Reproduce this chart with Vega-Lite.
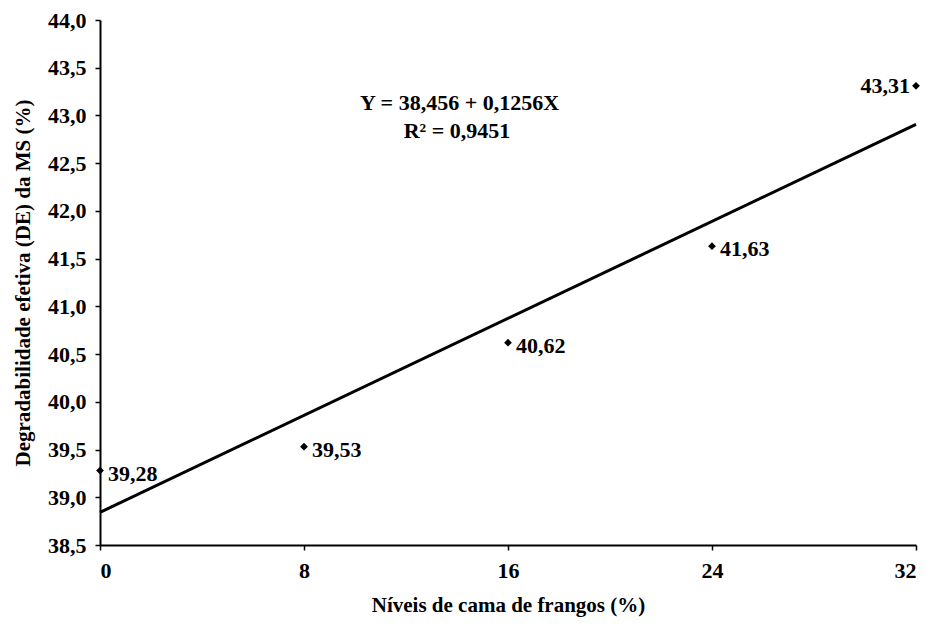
{
  "$schema": "https://vega.github.io/schema/vega-lite/v6.json",
  "width": 816,
  "height": 525,
  "autosize": {"type": "none"},
  "padding": {"left": 100, "top": 20, "right": 16, "bottom": 83},
  "background": "white",
  "config": {
    "view": {"stroke": null},
    "font": "Liberation Serif",
    "axis": {"grid": false, "domainColor": "black", "domainWidth": 2, "tickColor": "black", "tickWidth": 1.5, "tickSize": 5,
      "labelFont": "Liberation Serif", "labelFontWeight": "bold", "labelFontSize": 22, "labelColor": "black",
      "titleFont": "Liberation Serif", "titleFontWeight": "bold", "titleFontSize": 21, "titleColor": "black"}
  },
  "datasets": {
    "pts": [
      {"x": 0, "y": 39.28, "lab": "39,28"},
      {"x": 8, "y": 39.53, "lab": "39,53"},
      {"x": 16, "y": 40.62, "lab": "40,62"},
      {"x": 24, "y": 41.63, "lab": "41,63"},
      {"x": 32, "y": 43.31, "lab": "43,31"}
    ],
    "fit": [
      {"x": 0, "y": 38.842},
      {"x": 32, "y": 42.906}
    ],
    "ann": [
      {"x": 14.1, "y": 43.13, "t": "Y = 38,456 + 0,1256X"},
      {"x": 14.0, "y": 42.84, "t": "R² = 0,9451"}
    ]
  },
  "layer": [
    {
      "data": {"name": "fit"},
      "mark": {"type": "line", "color": "black", "strokeWidth": 3},
      "encoding": {
        "x": {"field": "x", "type": "quantitative", "scale": {"domain": [0, 32], "nice": false},
          "axis": {"values": [0, 8, 16, 24, 32], "title": "Níveis de cama de frangos (%)", "labelPadding": 10, "titlePadding": 13}},
        "y": {"field": "y", "type": "quantitative", "scale": {"domain": [38.5, 44], "nice": false, "zero": false},
          "axis": {"values": [38.5, 39, 39.5, 40, 40.5, 41, 41.5, 42, 42.5, 43, 43.5, 44], "labelExpr": "replace(format(datum.value, '.1f'), '.', ',')",
            "title": "Degradabilidade efetiva (DE) da MS (%)", "labelPadding": 9, "titlePadding": 14}}
      }
    },
    {
      "data": {"name": "pts"},
      "mark": {"type": "point", "shape": "diamond", "filled": true, "color": "black", "size": 60, "opacity": 1},
      "encoding": {
        "x": {"field": "x", "type": "quantitative"},
        "y": {"field": "y", "type": "quantitative"}
      }
    },
    {
      "data": {"name": "pts"},
      "transform": [{"filter": "datum.x < 32"}],
      "mark": {"type": "text", "align": "left", "baseline": "middle", "dx": 8, "dy": 3, "font": "Liberation Serif", "fontWeight": "bold", "fontSize": 22, "color": "black"},
      "encoding": {
        "x": {"field": "x", "type": "quantitative"},
        "y": {"field": "y", "type": "quantitative"},
        "text": {"field": "lab"}
      }
    },
    {
      "data": {"name": "pts"},
      "transform": [{"filter": "datum.x == 32"}],
      "mark": {"type": "text", "align": "right", "baseline": "middle", "dx": -6, "dy": 0, "font": "Liberation Serif", "fontWeight": "bold", "fontSize": 22, "color": "black"},
      "encoding": {
        "x": {"field": "x", "type": "quantitative"},
        "y": {"field": "y", "type": "quantitative"},
        "text": {"field": "lab"}
      }
    },
    {
      "data": {"name": "ann"},
      "mark": {"type": "text", "align": "center", "baseline": "middle", "font": "Liberation Serif", "fontWeight": "bold", "fontSize": 22, "color": "black"},
      "encoding": {
        "x": {"field": "x", "type": "quantitative"},
        "y": {"field": "y", "type": "quantitative"},
        "text": {"field": "t"}
      }
    }
  ]
}
